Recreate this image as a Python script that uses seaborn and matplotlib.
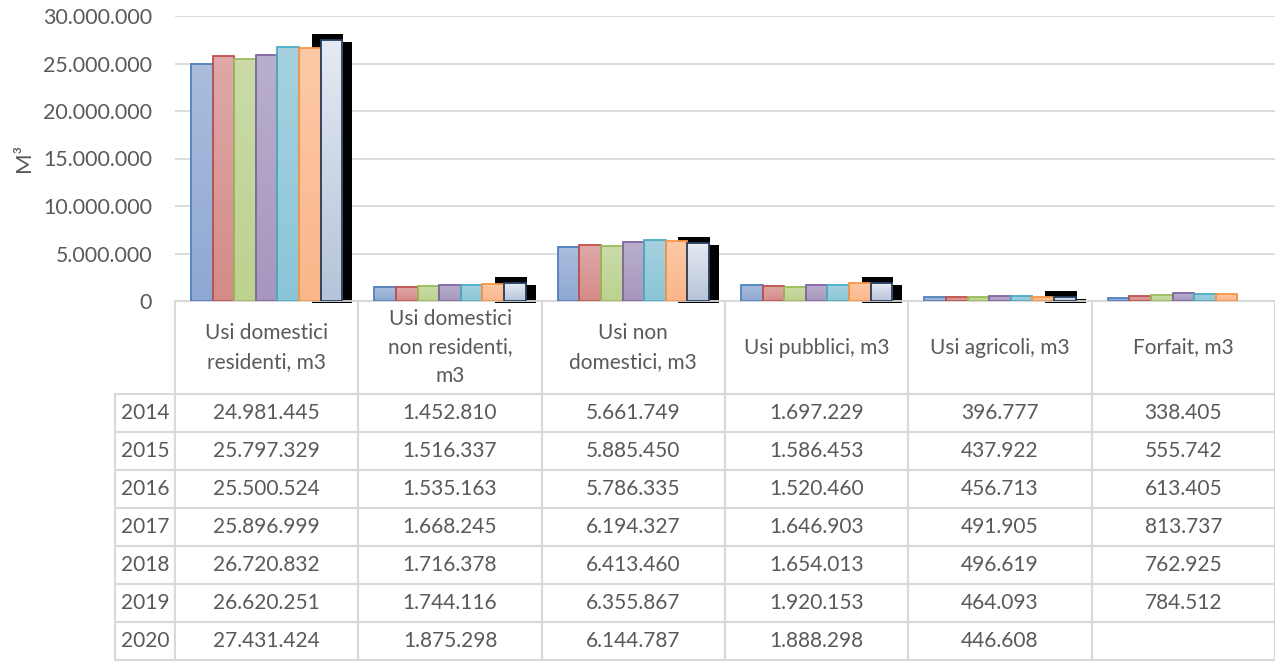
import numpy as np
import pandas as pd
import matplotlib
matplotlib.use("Agg")
import matplotlib.pyplot as plt
import seaborn as sns
from matplotlib.patches import Polygon
from matplotlib.colors import to_rgb
from matplotlib.ticker import FuncFormatter

# --- data (m3 per anno) ---
categories = ["Usi domestici\nresidenti, m3", "Usi domestici\nnon residenti,\nm3",
              "Usi non\ndomestici, m3", "Usi pubblici, m3", "Usi agricoli, m3", "Forfait, m3"]
years = ["2014", "2015", "2016", "2017", "2018", "2019", "2020"]
v2014 = [24981445, 1452810, 5661749, 1697229, 396777, 338405]
v2015 = [25797329, 1516337, 5885450, 1586453, 437922, 555742]
v2016 = [25500524, 1535163, 5786335, 1520460, 456713, 613405]
v2017 = [25896999, 1668245, 6194327, 1646903, 491905, 813737]
v2018 = [26720832, 1716378, 6413460, 1654013, 496619, 762925]
v2019 = [26620251, 1744116, 6355867, 1920153, 464093, 784512]
v2020 = [27431424, 1875298, 6144787, 1888298, 446608, np.nan]
series = [v2014, v2015, v2016, v2017, v2018, v2019, v2020]

edge_colors = ["#4F81BD", "#C0504D", "#9BBB59", "#8064A2", "#4BACC6", "#F79646", "#243F60"]
grad_top = ["#AABDDC", "#DEA9A8", "#CADBA9", "#B9AFCB", "#A7D1DF", "#FCC9A6", "#E6EAF2"]
grad_bot = ["#8FA8D3", "#D48B89", "#BCD28F", "#A796BE", "#8AC6D7", "#FBB68A", "#B6C3D8"]

rows = []
for y, vals in zip(years, series):
    for c, v in zip(categories, vals):
        rows.append({"categoria": c, "anno": y, "valore": v})
df = pd.DataFrame(rows)

def fmt_it(v):
    if pd.isna(v):
        return ""
    return f"{v:,.0f}".replace(",", ".")

sns.set_theme(style="white")
plt.rcParams["font.family"] = ["Lato", "DejaVu Sans"]
TXT = "#595959"
GRID = "#D9D9D9"

fig = plt.figure(figsize=(12.75, 6.62), dpi=100)
ax = fig.add_axes([175 / 1275, 1 - 301 / 662, 1100 / 1275, 285 / 662])

sns.barplot(data=df, x="categoria", y="valore", hue="anno", hue_order=years,
            palette=edge_colors, saturation=1, width=0.825, dodge=True,
            legend=False, ax=ax, errorbar=None)

ax.set_xlim(-0.5, 5.5)
ax.set_ylim(0, 30_000_000)
px_x = 6 / 1100
px_y = 30_000_000 / 285

# gradient fills + shadow for the last series
for patch in list(ax.patches):
    fc = np.array(patch.get_facecolor()[:3])
    idx = int(np.argmin([np.sum((fc - np.array(to_rgb(c))) ** 2) for c in edge_colors]))
    x0, w, h = patch.get_x(), patch.get_width(), patch.get_height()
    if not np.isfinite(h) or h <= 0:
        continue
    top, bot = np.array(to_rgb(grad_top[idx])), np.array(to_rgb(grad_bot[idx]))
    t = np.linspace(0, 1, 128)[:, None, None]
    grad = top * (1 - t) + bot * t
    im = ax.imshow(grad, extent=[x0, x0 + w, 0, h], aspect="auto", zorder=2,
                   interpolation="bilinear", origin="upper")
    im.set_clip_path(patch)
    patch.set_facecolor("none")
    patch.set_edgecolor(edge_colors[idx])
    patch.set_linewidth(1.3)
    patch.set_zorder(3)
    if idx == len(years) - 1:
        x1 = x0 + w
        L, R = x0 - 9 * px_x, x1 + 10 * px_x
        T = h + 6 * px_y
        S = h - 2 * px_y
        poly = Polygon([(L, -2 * px_y), (L, T), (x1 + px_x, T), (x1 + px_x, S),
                        (R, S), (R, -2 * px_y)], closed=True, facecolor="black",
                       edgecolor="none", zorder=1.5, clip_on=False)
        ax.add_patch(poly)

ax.set_xlim(-0.5, 5.5)
ax.set_ylim(0, 30_000_000)
ax.set_yticks(np.arange(0, 30_000_001, 5_000_000))
ax.yaxis.set_major_formatter(FuncFormatter(lambda v, p: fmt_it(v)))
ax.tick_params(axis="y", length=0, pad=16.5, labelsize=15.4, labelcolor=TXT)
ax.set_xticks([])
ax.set_xlabel("")
ax.set_ylabel("M³", fontsize=16, color=TXT)
ax.yaxis.set_label_coords(-0.128, 0.5)
ax.grid(axis="y", color=GRID, linewidth=1.3, zorder=0.5)
ax.set_axisbelow(True)
for s in ["top", "right", "left"]:
    ax.spines[s].set_visible(False)
ax.spines["bottom"].set_color(GRID)
ax.spines["bottom"].set_linewidth(1.3)

# data table: years as first column, blank top-left cell
cell_text = [[y] + [fmt_it(v) for v in vals] for y, vals in zip(years, series)]
tab = ax.table(cellText=cell_text, colLabels=[""] + categories, cellLoc="center",
               bbox=[-60 / 1100, -(660 - 301) / 285, 1160 / 1100, (660 - 301) / 285])
tab.auto_set_font_size(False)
tab.set_fontsize(15)
for (r, c), cell in tab.get_celld().items():
    cell.set_edgecolor(GRID)
    cell.set_linewidth(1.5)
    cell.set_facecolor("none")
    cell.get_text().set_color(TXT)
    cell.set_width(60 if c == 0 else 1100 / 6)
    cell.set_height(93 if r == 0 else 38)
    if r == 0:
        cell.get_text().set_linespacing(1.55)
        if c == 0:
            cell.visible_edges = ""

fig.savefig("out.png", dpi=100)
